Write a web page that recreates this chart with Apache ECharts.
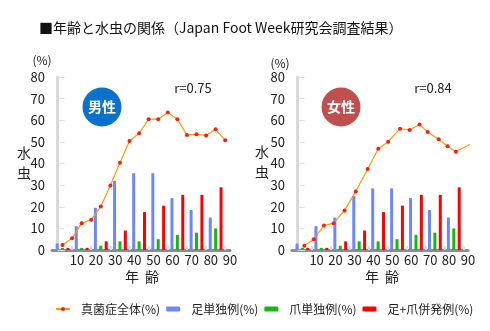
<!DOCTYPE html>
<html><head><meta charset="utf-8">
<script src="https://cdn.jsdelivr.net/npm/echarts@6/dist/echarts.min.js"></script>
<style>html,body{margin:0;padding:0;background:#fff}#c{width:490px;height:331px}</style>
</head><body><div id="c"></div>
<script>
// ---- data ----
const lineAges = [2.5,7.5,12.5,17.5,22.5,27.5,32.5,37.5,42.5,47.5,52.5,57.5,62.5,67.5,72.5,77.5,82.5,87.5];
const decades = [0,10,20,30,40,50,60,70,80];
const xTickLabels = [10,20,30,40,50,60,70,80,90];
const maleTotal = [2.3,5.4,12.4,14,20.1,29.8,40.3,50.4,54,60.5,60.5,63.6,60.5,53.2,53.5,53,55.8,50.7];
const maleFoot  = [3,11,19.5,32,35.5,35.5,24,18.5,15];
const maleNail  = [1,1,2,4,4,5,7,8,10];
const maleBoth  = [1,1,4,9,17.5,20.5,25.5,25.5,29];
const femaleAges  = [3.5,8.5,13.9,19,24.8,30.7,37,42.6,47.8,54.1,59.2,64.4,68.7,74.5,79.2,83.6,91.8];
const femaleTotal = [2,5,11.3,12.4,18.3,27.1,37.5,46.8,50.1,56.1,55.5,58,54.6,51.2,48,45.4,49.2];
const femaleFoot = [3,11,15,25,28.5,28.5,24,18.5,15];
const femaleNail = [1,1,2,4,4,5,7,8,10];
const femaleBoth = [1,1,4,9,17.5,20.5,25.5,25.5,29];
const seriesNames = ['真菌症全体(%)','足単独例(%)','爪単独例(%)','足+爪併発例(%)'];
const rValues = ['r=0.75','r=0.84'];

const FONT = '"Noto Sans CJK JP","Noto Sans",sans-serif';
const C_LINE='#ff9a00', C_DOT='#ff1a1a', C_BLUE='#6c88ff', C_GREEN='#14b814', C_RED='#ff0000';

const chart = echarts.init(document.getElementById('c'), null, {renderer:'canvas'});
const grids = [
  {left:52, top:77, width:178, height:173},
  {left:292, top:77, width:176, height:173}
];
function xAx(i){return {gridIndex:i,type:'value',min:-3,max:90,
  axisLine:{show:true,lineStyle:{color:'#8a8c9a',width:3}},
  axisTick:{show:true,inside:true,length:4,customValues:[7.5,17.5,27.5,37.5,47.5,57.5,67.5,77.5,87.5],lineStyle:{color:'#dddddd',width:2}},
  axisLabel:{customValues:xTickLabels,fontSize:13,color:'#222',fontFamily:FONT,margin:4},
  splitLine:{show:false}};}
function yAx(i){return {gridIndex:i,type:'value',min:0,max:80,interval:10,
  axisLine:{show:true,lineStyle:{color:'#d9d9d9',width:3}},
  axisTick:{show:true,inside:true,length:7,lineStyle:{color:'#e2e2e2',width:1}},
  axisLabel:{fontSize:13,color:'#222',fontFamily:FONT,margin:7},
  splitLine:{show:false}};}
function pairs(xs,ys){return ys.map((v,i)=>[xs[i],v]);}
function barPos(){return decades.map(d=>d+2.5);}
function makeSeries(i, ages, total, foot, nail, both){
  const bx = barPos();
  return [
    {name:seriesNames[0],type:'line',xAxisIndex:i,yAxisIndex:i,data:pairs(ages,total),
     lineStyle:{color:C_LINE,width:1.2},itemStyle:{color:C_DOT},symbol:'circle',symbolSize:4,z:5},
    {name:seriesNames[1],type:'bar',xAxisIndex:i,yAxisIndex:i,data:pairs(bx,foot),barWidth:3,barGap:'80%',
     itemStyle:{color:C_BLUE}},
    {name:seriesNames[2],type:'bar',xAxisIndex:i,yAxisIndex:i,data:pairs(bx,nail),barWidth:3,barGap:'80%',
     itemStyle:{color:C_GREEN}},
    {name:seriesNames[3],type:'bar',xAxisIndex:i,yAxisIndex:i,data:pairs(bx,both),barWidth:3,barGap:'80%',
     itemStyle:{color:C_RED}}
  ];
}
function txt(x,y,t,size,extra){return Object.assign({type:'text',x:x,y:y,style:Object.assign({text:t,fontSize:size,fontFamily:FONT,fill:'#222',align:'center',verticalAlign:'middle'},extra||{})});}

const option = {
  animation:false,
  textStyle:{fontFamily:FONT},
  title:{text:'■年齢と水虫の関係（Japan Foot Week研究会調査結果）',left:34,top:16,
    textStyle:{fontSize:14,fontWeight:'normal',color:'#111',fontFamily:FONT}},
  grid:grids,
  xAxis:[xAx(0),xAx(1)],
  yAxis:[yAx(0),yAx(1)],
  legend:{left:50,top:298,itemWidth:14,itemHeight:5,itemGap:6,
    textStyle:{fontSize:12,color:'#222',fontFamily:FONT,padding:[0,0,0,6]},
    data:seriesNames},
  series:[].concat(
    makeSeries(0,lineAges,maleTotal,maleFoot,maleNail,maleBoth),
    makeSeries(1,femaleAges,femaleTotal,femaleFoot,femaleNail,femaleBoth)),
  graphic:[
    txt(42,60,'(%)',12),
    txt(280,63,'(%)',12),
    txt(24,153,'水',14), txt(24,173,'虫',14),
    txt(262,152,'水',14), txt(262,172,'虫',14),
    txt(132,277,'年',14), txt(152,277,'齢',14),
    txt(372,277,'年',14), txt(392,277,'齢',14),
    txt(193,88,rValues[0],13), txt(433,88,rValues[1],13),
    {type:'circle',shape:{cx:102,cy:107,r:19.5},style:{fill:'#0a72cc'}},
    txt(102,107,'男性',14,{fill:'#fff',fontWeight:'bold'}),
    {type:'circle',shape:{cx:341,cy:107,r:19.5},style:{fill:'#c0504d'}},
    txt(341,107,'女性',14,{fill:'#fff',fontWeight:'bold'})
  ]
};
chart.setOption(option);
</script></body></html>
